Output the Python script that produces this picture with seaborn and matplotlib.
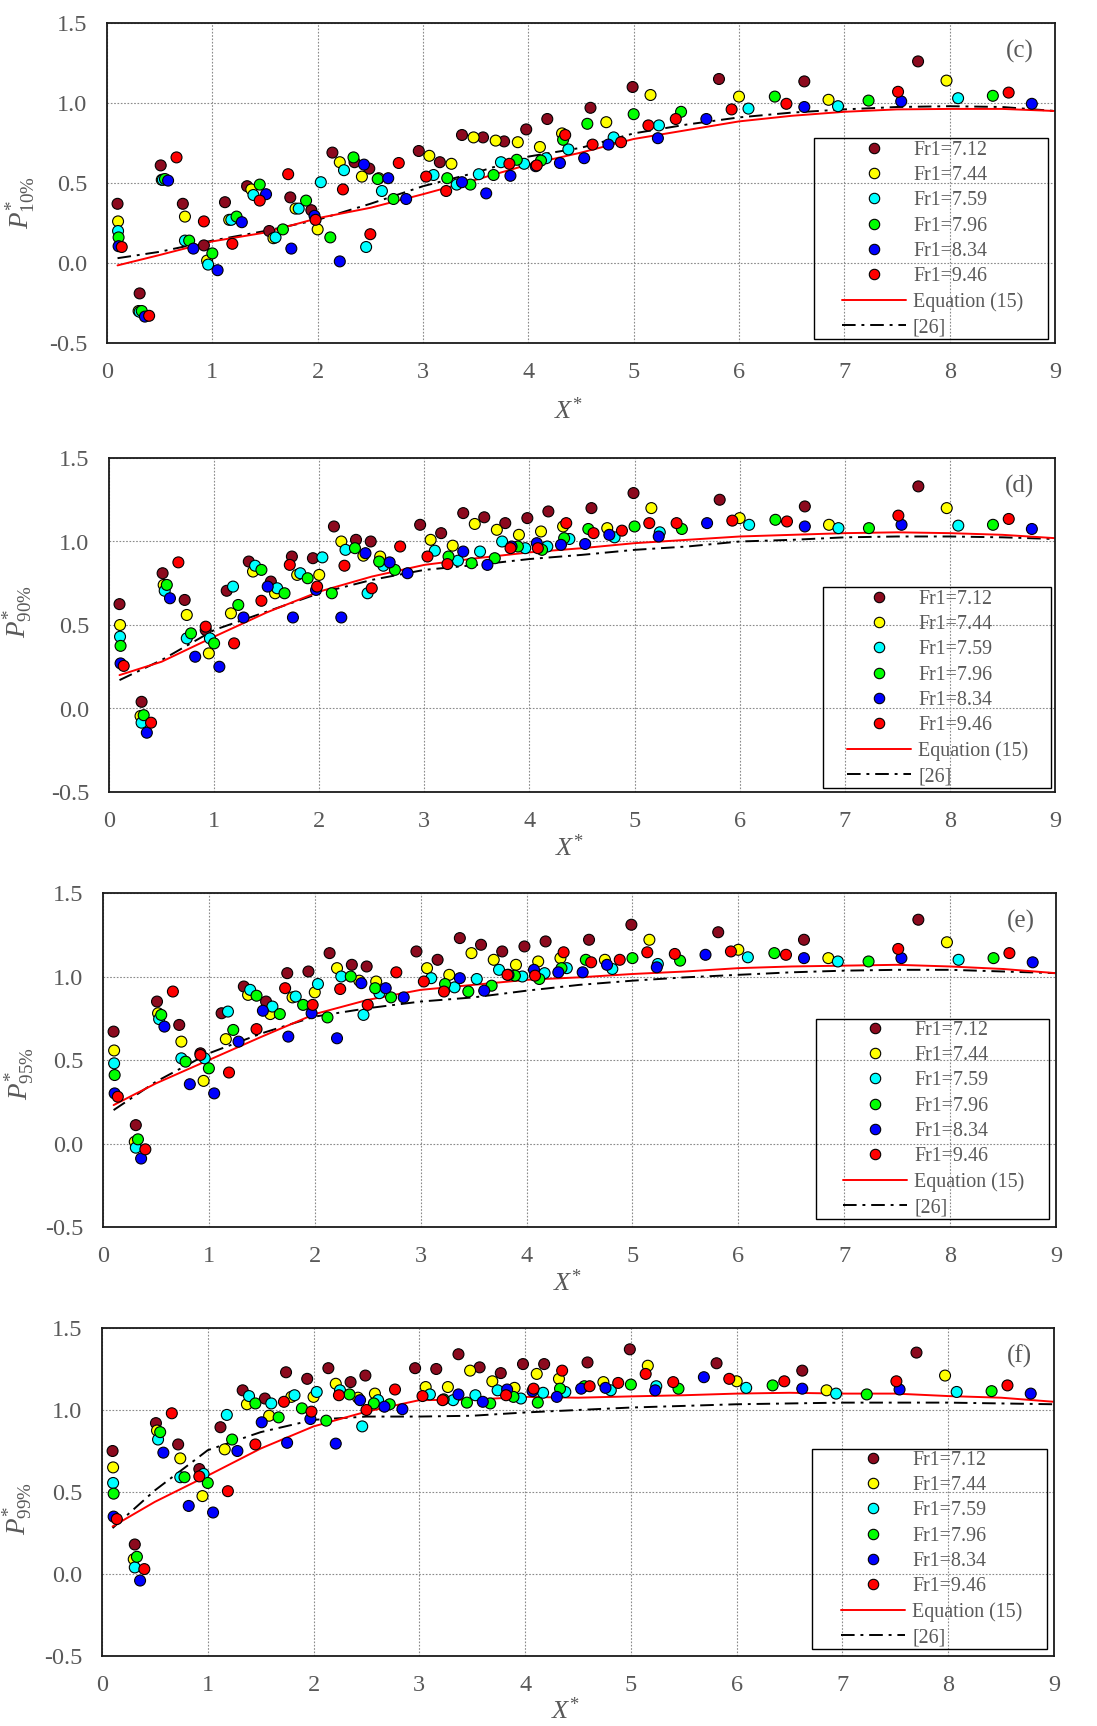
import numpy as np
import pandas as pd
import matplotlib
matplotlib.use("Agg")
import matplotlib.pyplot as plt
import matplotlib.patches as mpatches
from matplotlib.lines import Line2D
import seaborn as sns

sns.set_theme(style="white")
plt.rcParams['font.family'] = ['Liberation Serif', 'DejaVu Serif']
plt.rcParams['mathtext.fontset'] = 'custom'
plt.rcParams['mathtext.rm'] = 'Liberation Serif'
plt.rcParams['mathtext.it'] = 'Liberation Serif:italic'
plt.rcParams['axes.unicode_minus'] = False

# ---------------- data ----------------
series_names = ["Fr1=7.12", "Fr1=7.44", "Fr1=7.59", "Fr1=7.96", "Fr1=8.34", "Fr1=9.46"]
series_colors = ["#8C0A1E", "#FFFF00", "#00FFFF", "#00FF00", "#0000FF", "#FF0000"]

x_712 = [0.10, 0.31, 0.51, 0.72, 0.92, 1.12, 1.33, 1.54, 1.74, 1.94, 2.14, 2.35, 2.49,
         2.96, 3.16, 3.37, 3.57, 3.77, 3.98, 4.18, 4.59, 4.99, 5.81, 6.62, 7.70]
x_744 = [0.105, 0.30, 0.52, 0.74, 0.95, 1.16, 1.37, 1.58, 1.79, 2.00, 2.21, 2.42, 2.58,
         3.06, 3.27, 3.48, 3.69, 3.90, 4.11, 4.32, 4.74, 5.16, 6.00, 6.85, 7.97]
x_759 = [0.105, 0.31, 0.53, 0.74, 0.96, 1.18, 1.39, 1.60, 1.82, 2.03, 2.25, 2.46, 2.61,
         3.10, 3.32, 3.53, 3.74, 3.96, 4.17, 4.38, 4.81, 5.24, 6.09, 6.94, 8.08]
x_796 = [0.11, 0.33, 0.55, 0.78, 1.00, 1.23, 1.45, 1.67, 1.89, 2.12, 2.34, 2.57, 2.72,
         3.23, 3.45, 3.67, 3.89, 4.12, 4.33, 4.56, 5.00, 5.45, 6.34, 7.23, 8.41]
x_834 = [0.11, 0.36, 0.58, 0.82, 1.05, 1.28, 1.51, 1.75, 1.97, 2.21, 2.44, 2.67, 2.84,
         3.37, 3.60, 3.83, 4.07, 4.30, 4.53, 4.76, 5.23, 5.69, 6.62, 7.54, 8.78]
x_946 = [0.14, 0.40, 0.66, 0.92, 1.19, 1.45, 1.72, 1.98, 2.24, 2.50, 2.77, 3.03, 3.22,
         3.82, 4.08, 4.35, 4.61, 4.88, 5.14, 5.40, 5.93, 6.45, 7.51, 8.56]

# P*10%
p10_712 = [0.37, -0.19, 0.61, 0.37, 0.11, 0.38, 0.48, 0.20, 0.41, 0.33, 0.69, 0.63, 0.59,
           0.70, 0.63, 0.80, 0.785, 0.76, 0.835, 0.90, 0.97, 1.10, 1.15, 1.135, 1.26]
p10_744 = [0.26, -0.30, 0.52, 0.29, 0.015, 0.27, 0.46, 0.155, 0.34, 0.21, 0.63, 0.54, 0.53,
           0.67, 0.62, 0.785, 0.765, 0.755, 0.725, 0.81, 0.88, 1.05, 1.04, 1.02, 1.14]
p10_759 = [0.20, -0.305, 0.52, 0.14, -0.01, 0.27, 0.425, 0.16, 0.34, 0.505, 0.58, 0.10, 0.45,
           0.55, 0.49, 0.555, 0.63, 0.62, 0.655, 0.71, 0.785, 0.86, 0.965, 0.98, 1.03]
p10_796 = [0.16, -0.30, 0.525, 0.14, 0.06, 0.29, 0.49, 0.21, 0.39, 0.16, 0.66, 0.525, 0.40,
           0.53, 0.49, 0.55, 0.645, 0.64, 0.77, 0.87, 0.93, 0.945, 1.04, 1.015, 1.045]
p10_834 = [0.105, -0.335, 0.515, 0.09, -0.045, 0.255, 0.43, 0.09, 0.295, 0.01, 0.615, 0.53, 0.40,
           0.505, 0.435, 0.545, 0.605, 0.625, 0.655, 0.74, 0.78, 0.90, 0.975, 1.01, 0.995]
p10_946 = [0.10, -0.33, 0.66, 0.26, 0.12, 0.39, 0.555, 0.27, 0.46, 0.18, 0.625, 0.54, 0.45,
           0.62, 0.61, 0.80, 0.74, 0.755, 0.86, 0.90, 0.96, 0.995, 1.07, 1.065]

# P*90%
p90_712 = [0.625, 0.04, 0.81, 0.65, 0.47, 0.705, 0.88, 0.76, 0.91, 0.90, 1.09, 1.01, 1.00,
           1.10, 1.05, 1.17, 1.145, 1.11, 1.14, 1.18, 1.20, 1.29, 1.25, 1.21, 1.33]
p90_744 = [0.50, -0.045, 0.74, 0.56, 0.33, 0.57, 0.82, 0.69, 0.80, 0.80, 1.00, 0.915, 0.91,
           1.01, 0.975, 1.105, 1.07, 1.04, 1.06, 1.09, 1.08, 1.20, 1.14, 1.10, 1.20]
p90_759 = [0.43, -0.085, 0.705, 0.42, 0.42, 0.73, 0.855, 0.72, 0.81, 0.905, 0.95, 0.69, 0.855,
           0.945, 0.885, 0.94, 1.00, 0.96, 0.97, 1.015, 1.025, 1.055, 1.10, 1.08, 1.095]
p90_796 = [0.375, -0.04, 0.74, 0.45, 0.39, 0.62, 0.83, 0.69, 0.78, 0.69, 0.96, 0.88, 0.83,
           0.91, 0.87, 0.90, 0.97, 0.95, 1.02, 1.075, 1.09, 1.075, 1.13, 1.08, 1.10]
p90_834 = [0.27, -0.145, 0.66, 0.31, 0.25, 0.545, 0.73, 0.545, 0.71, 0.545, 0.93, 0.875, 0.81,
           0.94, 0.86, 0.97, 0.99, 0.98, 0.985, 1.04, 1.03, 1.11, 1.09, 1.10, 1.075]
p90_946 = [0.255, -0.085, 0.875, 0.49, 0.39, 0.645, 0.86, 0.73, 0.855, 0.72, 0.97, 0.91, 0.865,
           0.96, 0.96, 1.11, 1.05, 1.065, 1.11, 1.11, 1.125, 1.12, 1.155, 1.135]

# P*95%
p95_712 = [0.67, 0.11, 0.85, 0.71, 0.54, 0.78, 0.94, 0.85, 1.02, 1.03, 1.14, 1.07, 1.06,
           1.15, 1.10, 1.23, 1.19, 1.15, 1.18, 1.21, 1.22, 1.31, 1.265, 1.22, 1.34]
p95_744 = [0.557, 0.01, 0.78, 0.61, 0.375, 0.625, 0.89, 0.775, 0.875, 0.905, 1.05, 0.975, 0.97,
           1.05, 1.01, 1.14, 1.10, 1.07, 1.09, 1.11, 1.10, 1.22, 1.16, 1.11, 1.205]
p95_759 = [0.48, -0.025, 0.745, 0.51, 0.51, 0.79, 0.92, 0.82, 0.88, 0.955, 1.00, 0.77, 0.90,
           0.99, 0.935, 0.985, 1.04, 1.00, 1.02, 1.05, 1.045, 1.075, 1.115, 1.09, 1.10]
p95_796 = [0.41, 0.025, 0.77, 0.49, 0.45, 0.68, 0.885, 0.775, 0.83, 0.755, 1.00, 0.93, 0.875,
           0.955, 0.91, 0.945, 1.005, 0.985, 1.05, 1.10, 1.11, 1.095, 1.14, 1.09, 1.11]
p95_834 = [0.30, -0.09, 0.70, 0.355, 0.30, 0.61, 0.795, 0.64, 0.78, 0.63, 0.96, 0.93, 0.875,
           0.99, 0.915, 1.01, 1.04, 1.025, 1.025, 1.07, 1.055, 1.13, 1.11, 1.11, 1.085]
p95_946 = [0.28, -0.035, 0.91, 0.53, 0.425, 0.685, 0.93, 0.83, 0.925, 0.83, 1.025, 0.97, 0.91,
           1.01, 1.005, 1.145, 1.085, 1.10, 1.145, 1.135, 1.15, 1.13, 1.165, 1.14]

# P*99%
p99_712 = [0.75, 0.18, 0.92, 0.79, 0.64, 0.895, 1.12, 1.07, 1.23, 1.19, 1.255, 1.17, 1.21,
           1.255, 1.25, 1.34, 1.26, 1.225, 1.28, 1.28, 1.29, 1.37, 1.285, 1.24, 1.35]
p99_744 = [0.65, 0.09, 0.875, 0.705, 0.475, 0.76, 1.035, 0.965, 1.08, 1.08, 1.16, 1.075, 1.10,
           1.14, 1.14, 1.24, 1.175, 1.135, 1.22, 1.19, 1.17, 1.27, 1.175, 1.12, 1.21]
p99_759 = [0.555, 0.04, 0.82, 0.59, 0.61, 0.97, 1.085, 1.04, 1.09, 1.11, 1.12, 0.90, 1.06,
           1.095, 1.06, 1.09, 1.12, 1.07, 1.105, 1.11, 1.12, 1.145, 1.135, 1.10, 1.11]
p99_796 = [0.49, 0.105, 0.865, 0.59, 0.555, 0.82, 1.04, 0.955, 1.01, 0.935, 1.095, 1.04, 1.035,
           1.065, 1.045, 1.04, 1.08, 1.045, 1.13, 1.145, 1.155, 1.13, 1.15, 1.095, 1.115]
p99_834 = [0.35, -0.04, 0.74, 0.415, 0.375, 0.75, 0.925, 0.80, 0.945, 0.795, 1.06, 1.02, 1.005,
           1.095, 1.05, 1.125, 1.115, 1.08, 1.13, 1.135, 1.12, 1.20, 1.13, 1.125, 1.10]
p99_946 = [0.335, 0.03, 0.98, 0.595, 0.505, 0.79, 1.05, 0.99, 1.09, 1.00, 1.125, 1.085, 1.06,
           1.09, 1.13, 1.24, 1.145, 1.165, 1.22, 1.17, 1.19, 1.175, 1.175, 1.15]

# curves: Equation (15) and [26]
curve_x = [0.1, 0.5, 1.0, 1.5, 2.0, 2.5, 3.0, 3.5, 4.0, 4.5, 5.0, 5.5, 6.0, 6.5, 7.0, 7.5, 8.0, 8.5, 9.0]
eq15_10 = [-0.015, 0.05, 0.135, 0.19, 0.28, 0.345, 0.43, 0.52, 0.615, 0.69, 0.775, 0.83, 0.885, 0.92, 0.945, 0.96, 0.963, 0.963, 0.95]
ref26_10 = [0.03, 0.07, 0.14, 0.20, 0.27, 0.37, 0.48, 0.565, 0.665, 0.72, 0.81, 0.865, 0.91, 0.94, 0.96, 0.975, 0.98, 0.975, 0.95]
eq15_90 = [0.20, 0.28, 0.43, 0.575, 0.70, 0.79, 0.86, 0.90, 0.935, 0.96, 0.99, 1.01, 1.03, 1.04, 1.05, 1.055, 1.05, 1.04, 1.02]
ref26_90 = [0.17, 0.29, 0.47, 0.58, 0.69, 0.77, 0.83, 0.86, 0.895, 0.92, 0.95, 0.97, 1.00, 1.01, 1.025, 1.03, 1.03, 1.025, 1.015]
eq15_95 = [0.23, 0.36, 0.50, 0.64, 0.775, 0.86, 0.92, 0.95, 0.98, 0.995, 1.015, 1.03, 1.05, 1.06, 1.065, 1.07, 1.06, 1.045, 1.02]
ref26_95 = [0.20, 0.37, 0.54, 0.66, 0.76, 0.81, 0.85, 0.875, 0.915, 0.95, 0.975, 0.995, 1.01, 1.025, 1.035, 1.04, 1.04, 1.03, 1.02]
eq15_99 = [0.29, 0.44, 0.60, 0.765, 0.90, 0.99, 1.06, 1.063, 1.08, 1.075, 1.083, 1.09, 1.10, 1.105, 1.10, 1.10, 1.085, 1.075, 1.05]
ref26_99 = [0.28, 0.51, 0.755, 0.865, 0.94, 0.96, 0.96, 0.965, 0.985, 1.0, 1.015, 1.025, 1.035, 1.04, 1.045, 1.045, 1.045, 1.04, 1.035]

x_ticks = [0, 1, 2, 3, 4, 5, 6, 7, 8, 9]
y_ticks = [-0.5, 0.0, 0.5, 1.0, 1.5]
panel_labels = ["(c)", "(d)", "(e)", "(f)"]
y_labels = [r"$\mathit{P}^{*}_{\mathrm{10\%}}$", r"$\mathit{P}^{*}_{\mathrm{90\%}}$",
            r"$\mathit{P}^{*}_{\mathrm{95\%}}$", r"$\mathit{P}^{*}_{\mathrm{99\%}}$"]
legend_extra = ["Equation (15)", "[26]"]

xs_all = [x_712, x_744, x_759, x_796, x_834, x_946]
panels_y = [
    [p10_712, p10_744, p10_759, p10_796, p10_834, p10_946],
    [p90_712, p90_744, p90_759, p90_796, p90_834, p90_946],
    [p95_712, p95_744, p95_759, p95_796, p95_834, p95_946],
    [p99_712, p99_744, p99_759, p99_796, p99_834, p99_946],
]
curves = [(eq15_10, ref26_10), (eq15_90, ref26_90), (eq15_95, ref26_95), (eq15_99, ref26_99)]

# ---------------- layout (pixels) ----------------
W, H = 1097, 1726
# axes: left, top, right, bottom
ax_px = [(107, 23, 1055, 343), (109, 458, 1055, 792), (103, 893, 1056, 1227), (102, 1328, 1054, 1656)]
# legend box: left, top, right, bottom ; handle left x ; first row centre y
leg_px = [((814, 138, 1048, 339), 842, 151),
          ((823, 587, 1051, 788), 847, 600),
          ((816, 1019, 1049, 1219), 843, 1031),
          ((812, 1449, 1047, 1649), 841, 1461)]
ylab_pos = [(-0.073, 0.44), (-0.078, 0.54), (-0.069, 0.46), (-0.070, 0.45)]
xlab_top = [54, 42, 42, 41]

gray = "#595959"
fig = plt.figure(figsize=(W / 100, H / 100), dpi=100)

for i in range(4):
    l, t, r, b = ax_px[i]
    ax = fig.add_axes([l / W, 1 - b / H, (r - l) / W, (b - t) / H])

    rows = []
    for name, xs, ys in zip(series_names, xs_all, panels_y[i]):
        assert len(xs) == len(ys), (name, i)
        for xv, yv in zip(xs, ys):
            rows.append((xv, yv, name))
    df = pd.DataFrame(rows, columns=["X", "P", "Fr"])

    eq, rf = curves[i]
    sns.lineplot(x=curve_x, y=rf, color="black", linewidth=1.4,
                 linestyle=(0, (7, 3, 1.5, 3)), ax=ax, zorder=2)
    sns.lineplot(x=curve_x, y=eq, color="#FF0000", linewidth=1.4, ax=ax, zorder=2)
    sns.scatterplot(data=df, x="X", y="P", hue="Fr", hue_order=series_names,
                    palette=dict(zip(series_names, series_colors)),
                    s=62, edgecolor="black", linewidth=0.8, legend=False, ax=ax, zorder=3)

    ax.set_xlim(0, 9)
    ax.set_ylim(-0.5, 1.5)
    ax.set_xticks(x_ticks)
    ax.set_yticks(y_ticks)
    ax.set_xticklabels([str(v) for v in x_ticks])
    ax.set_yticklabels([f"{v:.1f}" for v in y_ticks])
    ax.tick_params(axis="both", length=0, labelsize=17.5, labelcolor=gray, pad=14)
    ax.grid(True, color="#8a8a8a", linestyle=(0, (1.5, 1.5)), linewidth=0.8)
    ax.set_axisbelow(True)
    for sp in ax.spines.values():
        sp.set_color("#1a1a1a")
        sp.set_linewidth(1.3)

    ax.set_ylabel(y_labels[i], fontsize=19.5, color=gray)
    ax.yaxis.set_label_coords(*ylab_pos[i])
    ax.set_xlabel(r"$\mathit{X}^{*}$", fontsize=19, color=gray)
    ax.xaxis.set_label_coords(0.487, -xlab_top[i] / (b - t))
    ax.xaxis.label.set_va("top")

    ax.text(1 - 35 / (r - l), 1 - 28 / (b - t), panel_labels[i], transform=ax.transAxes,
            ha="center", va="center", fontsize=18, color=gray)

    # legend
    (bl, bt, br, bb), hx, ry = leg_px[i]
    rect = mpatches.Rectangle((bl / W, 1 - bb / H), (br - bl) / W, (bb - bt) / H,
                              transform=fig.transFigure, fill=False, edgecolor="black",
                              linewidth=1.0, zorder=5)
    fig.patches.append(rect)
    handles = [Line2D([], [], marker="o", linestyle="none", markerfacecolor=c,
                      markeredgecolor="black", markeredgewidth=0.8, markersize=7.5)
               for c in series_colors]
    handles.append(Line2D([], [], color="#FF0000", linewidth=1.4))
    handles.append(Line2D([], [], color="black", linewidth=1.4, linestyle=(0, (7, 3, 1.5, 3))))
    leg = ax.legend(handles, series_names + legend_extra, loc="upper left",
                    bbox_to_anchor=(hx / W, 1 - (ry - 10) / H), bbox_transform=fig.transFigure,
                    frameon=False, borderpad=0, borderaxespad=0, fontsize=14.4,
                    labelspacing=0.31, handlelength=3.2, handletextpad=0.35,
                    labelcolor=gray)

fig.savefig("out.png", dpi=100)
